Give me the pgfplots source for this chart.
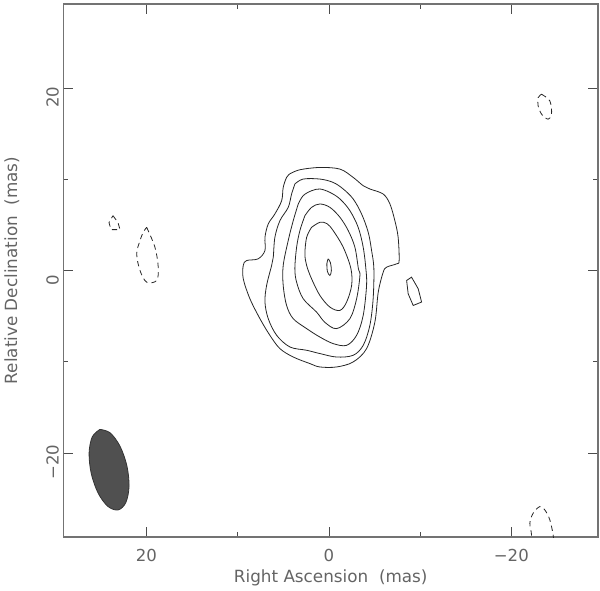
\documentclass[border=0pt]{standalone}
\usepackage{fontspec}
\setmainfont{DejaVu Sans}
\usepackage{pgfplots}
\pgfplotsset{compat=1.18}
\usetikzlibrary{calc}
\definecolor{txt}{RGB}{100,100,100}
\definecolor{beam}{RGB}{80,80,80}

\begin{document}
\begin{tikzpicture}
\begin{axis}[
    width=400.9pt, height=399.75pt, scale only axis,
    x dir=reverse,
    xmin=-29.5, xmax=29.1, ymin=-29.2, ymax=29.2,
    xtick={-20,0,20}, ytick={-20,0,20},
    xticklabels={−20,0,20}, yticklabels={−20,0,20},
    minor xtick={-10,10}, minor ytick={-10,10},
    major tick length=7.5pt, minor tick length=3.75pt,
    tick style={black!70, line width=0.6pt},
    axis line style={black!55, line width=0.9pt},
    ticklabel style={font=\fontsize{12.4}{14}\selectfont, text=txt},
    xticklabel style={yshift=-6pt},
    yticklabel style={rotate=90, anchor=south, xshift=-7pt},
    label style={font=\fontsize{12.6}{14}\selectfont, text=txt},
    xlabel={Right Ascension~~(mas)},
    ylabel={Relative Declination~~(mas)},
    xlabel style={at={(axis description cs:0.5,-0.077)}, anchor=center},
    ylabel style={at={(axis description cs:-0.0965,0.5)}, anchor=center},
    cont/.style={black!85, line width=0.6pt, mark=none, smooth, tension=0.55},
    neg/.style={cont, dash pattern=on 4pt off 3pt},
]
\coordinate (sw) at (rel axis cs:0,0);
\coordinate (ne) at (rel axis cs:1,1);

% restoring beam
\addplot[cont, fill=beam, draw=black!80] coordinates {
(25.10,-17.41) (25.94,-18.22) (26.29,-20.00) (26.05,-22.26) (25.29,-24.41)
(24.21,-25.86) (23.10,-26.23) (22.26,-25.42) (21.91,-23.64) (22.15,-21.38)
(22.91,-19.23) (23.99,-17.78) (25.10,-17.41)};

% positive contours
\addplot[cont] coordinates {
(4.27,10.60) (3.18,11.04) (0.99,11.29) (-1.21,11.11) (-2.66,10.20) (-3.76,9.29)
(-4.49,8.93) (-5.95,8.38) (-6.69,7.29) (-7.23,5.46) (-7.59,3.64) (-7.70,1.09)
(-7.42,0.73) (-6.32,0.36) (-5.95,-0.19) (-5.41,-2.37) (-5.04,-5.65) (-4.13,-8.56)
(-2.66,-10.02) (-0.84,-10.57) (0.99,-10.57) (2.08,-10.20) (3.91,-9.48) (5.37,-8.56)
(6.47,-7.10) (7.56,-5.28) (8.66,-3.09) (9.39,-0.91) (9.39,0.55) (9.02,1.09)
(7.75,1.28) (7.01,2.19) (7.01,3.64) (6.65,5.10) (5.92,6.20) (5.18,7.65)
(5.01,9.10) (4.64,10.20) (4.27,10.60)};
\addplot[cont] coordinates {
(3.73,9.48) (2.82,10.02) (0.99,10.02) (-0.47,9.65) (-1.57,8.93) (-2.66,7.84)
(-3.58,6.20) (-4.31,4.19) (-4.68,2.19) (-4.93,0.22) (-4.85,-3.09) (-4.49,-6.01)
(-3.76,-8.20) (-2.66,-9.29) (-0.84,-9.48) (0.99,-9.10) (2.44,-8.74) (4.27,-8.38)
(5.73,-7.10) (6.65,-5.28) (7.01,-3.46) (6.83,-1.64) (6.28,0.55) (6.10,1.45)
(5.92,3.64) (5.37,5.46) (4.46,6.92) (4.09,8.38) (3.73,9.48)};
\addplot[cont] coordinates {
(3.36,7.29) (2.82,8.20) (1.90,8.74) (0.99,8.93) (-0.11,8.56) (-1.21,7.84)
(-2.30,6.56) (-3.21,4.73) (-3.76,2.55) (-4.05,0.22) (-4.13,-1.64) (-3.76,-4.92)
(-3.04,-7.10) (-1.94,-8.20) (-0.47,-8.01) (0.99,-7.29) (2.44,-6.37) (3.91,-5.28)
(4.64,-3.83) (5.01,-1.64) (5.01,0.55) (4.46,3.28) (3.91,5.46) (3.36,7.29)};
\addplot[cont] coordinates {
(2.63,6.01) (1.90,6.92) (0.99,7.29) (-0.11,6.92) (-1.21,5.83) (-2.12,4.37)
(-2.85,2.55) (-3.23,0.22) (-3.40,-0.55) (-3.04,-3.09) (-2.30,-5.28) (-0.84,-6.37)
(0.44,-5.68) (1.35,-4.56) (2.82,-3.09) (3.54,-1.28) (3.73,0.22) (3.54,2.55)
(3.18,4.37) (2.63,6.01)};
\addplot[cont] coordinates {
(1.90,4.73) (0.99,5.28) (0.22,5.14) (-0.47,4.37) (-1.57,2.55) (-2.41,0.22)
(-2.49,-1.64) (-1.94,-3.46) (-1.21,-4.37) (-0.11,-4.01) (0.99,-2.73) (1.90,-0.91)
(2.44,0.55) (2.63,1.83) (2.44,3.64) (1.90,4.73)};
\addplot[cont] coordinates {
(0.08,1.28) (-0.16,0.87) (-0.27,0.00) (-0.11,-0.55) (0.16,-0.11) (0.22,0.77) (0.08,1.28)};
\addplot[cont, sharp plot] coordinates {
(-8.52,-1.09) (-9.06,-0.73) (-9.79,-2.00) (-10.16,-3.46) (-9.24,-3.83) (-8.69,-2.55) (-8.52,-1.09)};

% negative contours
\addplot[neg, sharp plot] coordinates {
(23.67,6.01) (23.12,5.25) (22.90,4.48) (23.89,4.48) (24.11,5.25) (23.67,6.01)};
\addplot[neg] coordinates {
(19.98,4.73) (19.07,2.55) (18.71,0.36) (18.88,-1.09) (19.98,-1.28) (20.71,0.00)
(21.07,1.83) (20.71,3.28) (20.35,4.19) (19.98,4.73)};
\addplot[neg] coordinates {
(-23.31,19.31) (-24.22,18.58) (-24.41,17.13) (-24.03,16.58) (-23.31,17.13)
(-22.94,18.03) (-22.94,18.94) (-23.31,19.31)};
\addplot[neg] coordinates {
(-22.03,-30.05) (-22.21,-28.96) (-22.03,-27.68) (-22.39,-26.59) (-23.12,-25.87)
(-23.67,-26.23) (-24.22,-27.32) (-24.58,-28.96) (-24.66,-30.05)};
\end{axis}
\pgfresetboundingbox
\path[use as bounding box] ($(sw)+(-47.6pt,-39.75pt)$) rectangle ($(ne)+(1.5pt,3pt)$);
\end{tikzpicture}
\end{document}
